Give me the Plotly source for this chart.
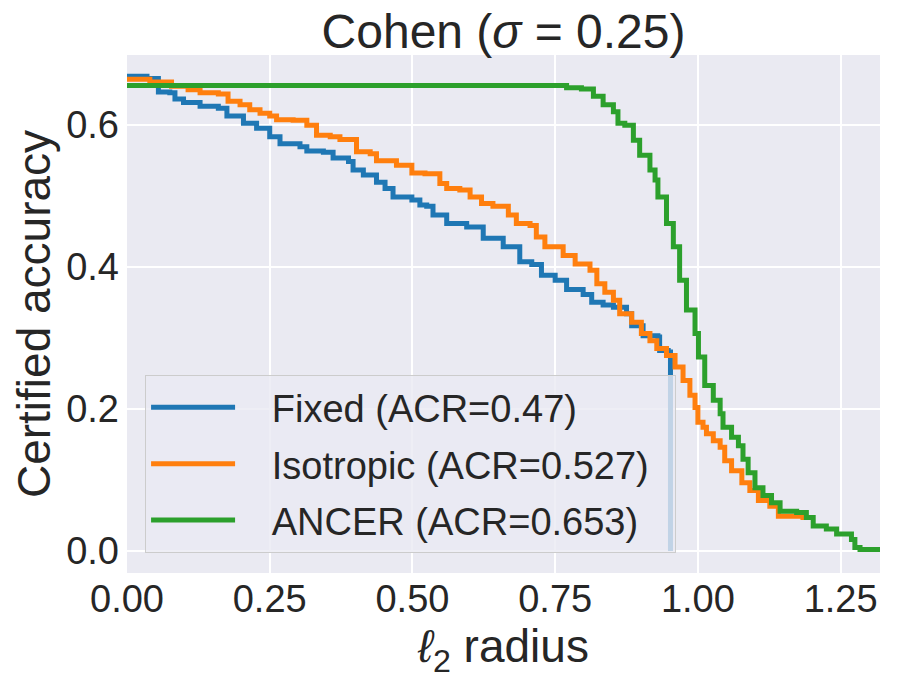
import plotly.graph_objects as go

# Certified accuracy curves (step functions)
fixed_r = [0.0, 0.035, 0.055, 0.075, 0.084, 0.099, 0.128, 0.160, 0.175, 0.204, 0.227, 0.250,
           0.268, 0.303, 0.315, 0.344, 0.361, 0.388, 0.396, 0.414, 0.437, 0.452, 0.466, 0.499,
           0.513, 0.525, 0.536, 0.560, 0.595, 0.624, 0.659, 0.688, 0.709, 0.726, 0.750, 0.770,
           0.799, 0.814, 0.834, 0.852, 0.875, 0.884, 0.904, 0.930, 0.933, 0.948, 0.952]
fixed_acc = [0.668, 0.665, 0.646, 0.645, 0.636, 0.631, 0.626, 0.623, 0.612, 0.602, 0.595, 0.583,
             0.573, 0.569, 0.563, 0.561, 0.553, 0.548, 0.536, 0.529, 0.519, 0.510, 0.498, 0.494,
             0.487, 0.485, 0.473, 0.461, 0.456, 0.440, 0.428, 0.407, 0.403, 0.388, 0.381, 0.368,
             0.361, 0.350, 0.346, 0.343, 0.334, 0.317, 0.303, 0.301, 0.282, 0.280, 0.0]

iso_r = [0.0, 0.040, 0.078, 0.107, 0.128, 0.160, 0.177, 0.198, 0.215, 0.233, 0.250, 0.262,
         0.291, 0.315, 0.332, 0.356, 0.373, 0.402, 0.426, 0.437, 0.472, 0.499, 0.522, 0.548,
         0.560, 0.583, 0.601, 0.621, 0.641, 0.668, 0.682, 0.706, 0.717, 0.732, 0.764, 0.785,
         0.811, 0.823, 0.837, 0.852, 0.863, 0.884, 0.901, 0.916, 0.928, 0.945, 0.960, 0.974,
         0.986, 0.995, 1.000, 1.009, 1.015, 1.027, 1.039, 1.047, 1.059, 1.077, 1.091, 1.106,
         1.126, 1.141, 1.184, 1.200]
iso_acc = [0.664, 0.660, 0.654, 0.649, 0.645, 0.643, 0.633, 0.628, 0.621, 0.616, 0.612, 0.607,
           0.606, 0.599, 0.585, 0.583, 0.579, 0.562, 0.559, 0.549, 0.543, 0.532, 0.531, 0.517,
           0.510, 0.508, 0.498, 0.489, 0.485, 0.473, 0.461, 0.458, 0.442, 0.428, 0.416, 0.404,
           0.395, 0.376, 0.364, 0.353, 0.334, 0.322, 0.306, 0.296, 0.285, 0.275, 0.259, 0.240,
           0.219, 0.202, 0.181, 0.174, 0.165, 0.155, 0.146, 0.127, 0.113, 0.096, 0.085, 0.071,
           0.063, 0.049, 0.047, 0.047]

ancer_r = [0.0, 0.747, 0.770, 0.796, 0.817, 0.834, 0.852, 0.860, 0.872, 0.887, 0.898, 0.916,
           0.925, 0.930, 0.945, 0.957, 0.968, 0.980, 0.995, 1.001, 1.012, 1.027, 1.039, 1.044,
           1.059, 1.071, 1.079, 1.088, 1.100, 1.114, 1.129, 1.144, 1.173, 1.190, 1.202, 1.225,
           1.243, 1.269, 1.275, 1.284, 1.320]
ancer_acc = [0.655, 0.655, 0.652, 0.650, 0.640, 0.628, 0.618, 0.602, 0.599, 0.578, 0.557, 0.536,
             0.522, 0.498, 0.461, 0.428, 0.381, 0.339, 0.306, 0.273, 0.233, 0.212, 0.193, 0.174,
             0.160, 0.148, 0.129, 0.110, 0.089, 0.078, 0.068, 0.056, 0.054, 0.047, 0.035, 0.031,
             0.024, 0.016, 0.005, 0.002, 0.002]

names = ['Fixed (ACR=0.47)', 'Isotropic (ACR=0.527)', 'ANCER (ACR=0.653)']
colors = ['#1f77b4', '#ff7f0e', '#2ca02c']

x_ticks = [0.0, 0.25, 0.5, 0.75, 1.0, 1.25]
y_ticks = [0.0, 0.2, 0.4, 0.6]

font_family = 'Liberation Sans, Arial, sans-serif'
text_color = '#262626'
nbsp = '\u00a0'

fig = go.Figure()
for name, r, acc, c in zip(names, [fixed_r, iso_r, ancer_r],
                           [fixed_acc, iso_acc, ancer_acc], colors):
    fig.add_trace(go.Scatter(
        x=r, y=acc, name=nbsp * 3 + name + nbsp * 2, mode='lines', legendgroup=name,
        line=dict(color=c, width=5, shape='hv'),
    ))

# the page body adds an 8px offset, so margins are shifted to keep the plot area in place
fig.update_layout(
    width=899, height=675,
    margin=dict(l=119, r=27, t=47, b=110),
    paper_bgcolor='white',
    plot_bgcolor='#EAEAF2',
    font=dict(family=font_family, size=38, color=text_color),
    title=dict(
        text='Cohen (<i>σ</i> = 0.25)',
        font=dict(size=48, color=text_color),
        x=0.5, xref='paper', xanchor='center',
        y=0.966, yref='container', yanchor='middle',
    ),
    legend=dict(
        x=0.024, y=0.382, xanchor='left', yanchor='top',
        bgcolor='rgba(234,234,242,0.8)',
        bordercolor='#CCCCCC', borderwidth=1,
        font=dict(size=38, color=text_color),
        itemwidth=84, tracegroupgap=4,
    ),
    showlegend=True,
)

fig.update_xaxes(
    range=[0, 1.319], tickvals=x_ticks, tickformat='.2f',
    showgrid=True, gridcolor='white', gridwidth=2,
    zeroline=False, showline=False, ticks='', automargin=False,
    title=dict(text='<i>ℓ</i><sub>2</sub> radius', standoff=4),
)
fig.update_yaxes(
    range=[-0.031, 0.698], tickvals=y_ticks, tickformat='.1f',
    showgrid=True, gridcolor='white', gridwidth=2,
    zeroline=False, showline=False, ticks='', automargin=False,
    ticklabelstandoff=7,
    title=dict(text='Certified accuracy', standoff=8),
)

fig.write_html('out.html')
